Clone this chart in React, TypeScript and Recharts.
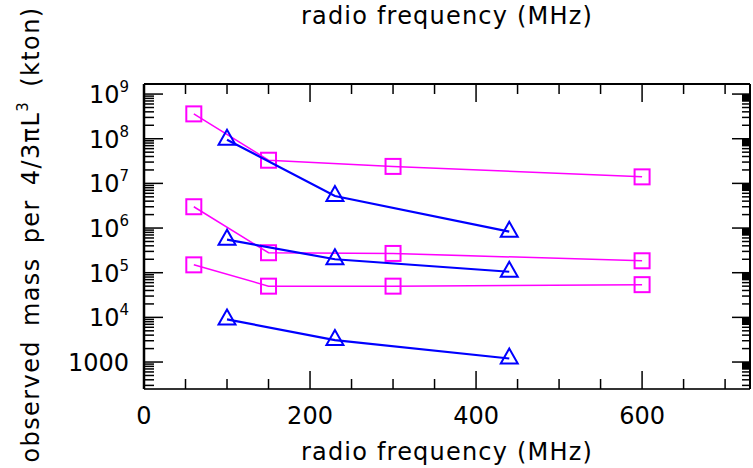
import React from "react";
import { ScatterChart, Scatter, XAxis, YAxis, Label } from "recharts";

// frequencies (MHz)
const squareFreqs = [60, 150, 300, 600];
const triangleFreqs = [100, 230, 440];

// observed mass per 4/3 pi L^3 (kton)
const squareHigh = [3.6e8, 3.3e7, 2.4e7, 1.4e7];
const squareMid = [3.0e6, 2.8e5, 2.7e5, 1.85e5];
const squareLow = [1.5e5, 5.0e4, 5.0e4, 5.4e4];

const triangleHigh = [9.5e7, 5.2e6, 8.3e5];
const triangleMid = [5.5e5, 2.0e5, 1.05e5];
const triangleLow = [9.0e3, 3.1e3, 1.2e3];

const xMajor = [0, 200, 400, 600];
const xTicks = [0, 50, 100, 150, 200, 250, 300, 350, 400, 450, 500, 550, 600, 650, 700];
const yMajor = [1e3, 1e4, 1e5, 1e6, 1e7, 1e8, 1e9];
const yMinorSteps = [2, 3, 4, 5, 6, 7, 8, 9];

const xDomain = [0, 730];
const yDomain = [249, 1.68e9];

const MAGENTA = "#ff00ff";
const BLUE = "#0000ff";
const FONT = "DejaVu Sans";

const yTicks: number[] = [];
[1e2, ...yMajor].forEach((d) => {
  yTicks.push(d);
  yMinorSteps.forEach((m) => yTicks.push(m * d));
});
const yTickList = yTicks.filter((v) => v >= yDomain[0] && v <= yDomain[1]);

const isMajorY = (v: number) => {
  const e = Math.log10(v);
  return Math.abs(e - Math.round(e)) < 1e-9;
};

const toPoints = (xs: number[], ys: number[]) => xs.map((x, i) => ({ x, y: ys[i] }));

const Square = (props: any) => {
  const { cx, cy } = props;
  return (
    <rect x={cx - 7.5} y={cy - 7.5} width={15} height={15} fill="none" stroke={MAGENTA} strokeWidth={2} />
  );
};

const Triangle = (props: any) => {
  const { cx, cy } = props;
  const w = 17;
  const h = 15;
  const top = cy - (2 * h) / 3;
  const bot = cy + h / 3;
  return (
    <polygon
      points={`${cx},${top} ${cx - w / 2},${bot} ${cx + w / 2},${bot}`}
      fill="none"
      stroke={BLUE}
      strokeWidth={2}
    />
  );
};

const LeftTick = (props: any) => {
  const { x, y, payload } = props;
  const v = payload.value;
  const major = isMajorY(v);
  const exp = Math.round(Math.log10(v));
  return (
    <g>
      <line x1={x} x2={x + (major ? 19 : 10)} y1={y} y2={y} stroke="#000" strokeWidth={1.5} />
      {major && (
        <text x={x - 15} y={y + 9} textAnchor="end" fontFamily={FONT} fontSize={24} fill="#000">
          {exp === 3 ? (
            "1000"
          ) : (
            <>
              <tspan>10</tspan>
              <tspan dy={-11} fontSize={15}>
                {exp}
              </tspan>
            </>
          )}
        </text>
      )}
    </g>
  );
};

const RightTick = (props: any) => {
  const { x, y, payload } = props;
  const major = isMajorY(payload.value);
  return (
    <g>
      <line x1={x} x2={x - (major ? 18 : 8)} y1={y} y2={y} stroke="#000" strokeWidth={1.5} />
      {major && <rect x={x - 8} y={y} width={8} height={7} fill="#000" />}
    </g>
  );
};

const BottomTick = (props: any) => {
  const { x, y, payload } = props;
  const major = xMajor.includes(payload.value);
  return (
    <g>
      <line x1={x} x2={x} y1={y} y2={y - (major ? 18 : 10)} stroke="#000" strokeWidth={1.5} />
      {major && (
        <text x={x} y={y + 35} textAnchor="middle" fontFamily={FONT} fontSize={24} fill="#000">
          {payload.value}
        </text>
      )}
    </g>
  );
};

const TopTick = (props: any) => {
  const { x, y, payload } = props;
  const major = xMajor.includes(payload.value);
  return <line x1={x} x2={x} y1={y} y2={y + (major ? 18 : 10)} stroke="#000" strokeWidth={1.5} />;
};

const titleStyle = { fontFamily: FONT, fontSize: 24, fill: "#000", letterSpacing: 1.2 };

export default function App() {
  return (
    <div style={{ position: "absolute", left: 0, top: 0, background: "#fff" }}>
      <ScatterChart width={753} height={468} margin={{ top: 0, right: 0, bottom: 0, left: 0 }}>
        <XAxis
          xAxisId="bottom"
          type="number"
          dataKey="x"
          orientation="bottom"
          domain={xDomain}
          allowDataOverflow
          ticks={xTicks}
          interval={0}
          height={79}
          tickSize={0}
          tickMargin={0}
          tick={<BottomTick />}
          axisLine={{ stroke: "#333", strokeWidth: 2 }}
        >
          <Label
            content={(p: any) => {
              const vb = p.viewBox;
              return (
                <text x={vb.x + vb.width / 2} y={vb.y + 71} textAnchor="middle" style={titleStyle}>
                  radio frequency (MHz)
                </text>
              );
            }}
          />
        </XAxis>
        <XAxis
          xAxisId="top"
          type="number"
          dataKey="x"
          orientation="top"
          domain={xDomain}
          allowDataOverflow
          ticks={xTicks}
          interval={0}
          height={84}
          tickSize={0}
          tickMargin={0}
          tick={<TopTick />}
          axisLine={{ stroke: "#000", strokeWidth: 2 }}
        >
          <Label
            content={(p: any) => {
              const vb = p.viewBox;
              return (
                <text x={vb.x + vb.width / 2} y={24} textAnchor="middle" style={titleStyle}>
                  radio frequency (MHz)
                </text>
              );
            }}
          />
        </XAxis>
        <YAxis
          yAxisId="left"
          type="number"
          dataKey="y"
          orientation="left"
          scale="log"
          domain={yDomain}
          allowDataOverflow
          ticks={yTickList}
          interval={0}
          width={144}
          tickSize={0}
          tickMargin={0}
          tick={<LeftTick />}
          axisLine={{ stroke: "#000", strokeWidth: 2.5 }}
        >
          <Label
            content={(p: any) => {
              const vb = p.viewBox;
              const cy = vb.y + vb.height / 2 - 2;
              return (
                <text
                  x={39}
                  y={cy}
                  transform={`rotate(-90, 39, ${cy})`}
                  textAnchor="middle"
                  style={{ ...titleStyle, letterSpacing: 1.4, wordSpacing: 5 }}
                >
                  <tspan>observed mass per 4/3πL</tspan>
                  <tspan dy={-11} fontSize={15}>3</tspan>
                  <tspan dy={11}> (kton)</tspan>
                </text>
              );
            }}
          />
        </YAxis>
        <YAxis
          yAxisId="right"
          type="number"
          dataKey="y"
          orientation="right"
          scale="log"
          domain={yDomain}
          allowDataOverflow
          ticks={yTickList}
          interval={0}
          width={3}
          tickSize={0}
          tickMargin={0}
          tick={<RightTick />}
          axisLine={{ stroke: "#000", strokeWidth: 2 }}
        />

        <Scatter xAxisId="bottom" yAxisId="left" data={toPoints(squareFreqs, squareHigh)} line={{ stroke: MAGENTA, strokeWidth: 1.5 }} shape={<Square />} isAnimationActive={false} />
        <Scatter xAxisId="bottom" yAxisId="left" data={toPoints(squareFreqs, squareMid)} line={{ stroke: MAGENTA, strokeWidth: 1.5 }} shape={<Square />} isAnimationActive={false} />
        <Scatter xAxisId="bottom" yAxisId="left" data={toPoints(squareFreqs, squareLow)} line={{ stroke: MAGENTA, strokeWidth: 1.5 }} shape={<Square />} isAnimationActive={false} />

        <Scatter xAxisId="top" yAxisId="right" data={toPoints(triangleFreqs, triangleHigh)} line={{ stroke: BLUE, strokeWidth: 2.2 }} shape={<Triangle />} isAnimationActive={false} />
        <Scatter xAxisId="top" yAxisId="right" data={toPoints(triangleFreqs, triangleMid)} line={{ stroke: BLUE, strokeWidth: 2.2 }} shape={<Triangle />} isAnimationActive={false} />
        <Scatter xAxisId="top" yAxisId="right" data={toPoints(triangleFreqs, triangleLow)} line={{ stroke: BLUE, strokeWidth: 2.2 }} shape={<Triangle />} isAnimationActive={false} />
      </ScatterChart>
    </div>
  );
}
